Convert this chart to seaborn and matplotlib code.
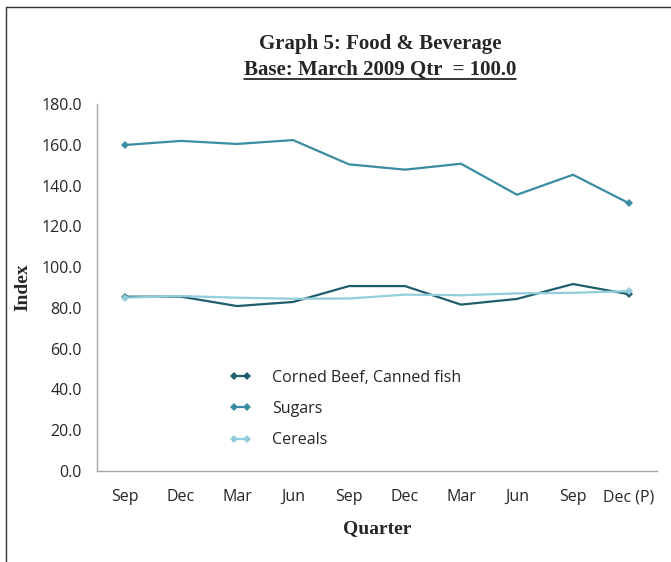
import matplotlib
matplotlib.use("Agg")
import matplotlib.pyplot as plt
import seaborn as sns
import pandas as pd
from matplotlib.lines import Line2D

quarters = ["Sep", "Dec", "Mar", "Jun", "Sep", "Dec", "Mar", "Jun", "Sep", "Dec (P)"]
corned_beef = [85.5, 85.5, 80.9, 82.9, 90.7, 90.7, 81.6, 84.4, 91.7, 86.7]
sugars = [159.9, 161.9, 160.4, 162.3, 150.4, 147.8, 150.7, 135.5, 145.3, 131.3]
cereals = [85.0, 85.8, 85.0, 84.5, 84.6, 86.5, 86.2, 87.1, 87.4, 88.2]
series_names = ["Corned Beef, Canned fish", "Sugars", "Cereals"]
colors = ["#1f5d6c", "#3a8ca3", "#93cddb"]

sns.set_style("white")
plt.rcParams["font.family"] = ["Open Sans", "DejaVu Sans"]

fig = plt.figure(figsize=(6.71, 5.62), dpi=100)
ax = fig.add_axes([97/671, 1-471/562, (657-97)/671, (471-104)/562])

x = list(range(len(quarters)))
for name, vals, col in zip(series_names, [corned_beef, sugars, cereals], colors):
    df = pd.DataFrame({"x": x, "y": vals})
    sns.lineplot(data=df, x="x", y="y", ax=ax, color=col, linewidth=1.6,
                 marker="D", markersize=4, markevery=[0, len(x)-1],
                 markeredgewidth=0, label=None)

ax.set_xlim(-0.5, len(quarters)-0.5)
ax.set_ylim(0, 180)
ax.set_yticks([i*20 for i in range(10)])
ax.set_yticklabels([f"{i*20:.1f}" for i in range(10)], fontsize=11.5)
ax.set_xticks([i-0.5 for i in range(len(quarters)+1)])
ax.set_xticklabels([])
ax.set_xticks(x, minor=True)
ax.set_xticklabels(quarters, minor=True, fontsize=11.5)
ax.tick_params(axis="x", which="minor", length=0, pad=13)
ax.tick_params(axis="x", which="major", length=5, color="#a6a6a6", direction="out")
ax.tick_params(axis="y", length=5, color="#a6a6a6", direction="out", pad=6)
for s in ["top", "right"]:
    ax.spines[s].set_visible(False)
for s in ["left", "bottom"]:
    ax.spines[s].set_color("#a6a6a6")
    ax.spines[s].set_linewidth(1)

ax.set_xlabel("Quarter", fontsize=14, fontweight="bold", family="Liberation Serif", labelpad=11)
ax.set_ylabel("Index", fontsize=14, fontweight="bold", family="Liberation Serif", labelpad=7)

handles = [Line2D([0], [0], color=c, linewidth=1.6, marker="D", markersize=4,
                  markeredgewidth=0) for c in colors]
leg = ax.legend(handles, series_names, loc="upper left", bbox_to_anchor=(0.21, 0.315),
                frameon=False, fontsize=11.5, numpoints=2, handlelength=1.4,
                handletextpad=1.3, labelspacing=0.95)

fig.text(380/671, 1-44/562, "Graph 5: Food & Beverage", ha="center", va="center",
         fontsize=15, fontweight="bold", family="Liberation Serif")
t2 = fig.text(380/671, 1-70/562, "Base: March 2009 Qtr  = 100.0", ha="center", va="center",
              fontsize=15, fontweight="bold", family="Liberation Serif")
fig.canvas.draw()
bb = t2.get_window_extent(fig.canvas.get_renderer()).transformed(fig.transFigure.inverted())
fig.add_artist(Line2D([bb.x0, bb.x1], [bb.y0 + 0.002, bb.y0 + 0.002], color="black",
                      linewidth=1.1, transform=fig.transFigure))

# outer frame lines
fig.add_artist(Line2D([6/671, 1], [1-7/562, 1-7/562], color="#333333", linewidth=1, transform=fig.transFigure))
fig.add_artist(Line2D([6/671, 6/671], [0, 1-7/562], color="#333333", linewidth=1, transform=fig.transFigure))

fig.savefig("out.png", dpi=100)
